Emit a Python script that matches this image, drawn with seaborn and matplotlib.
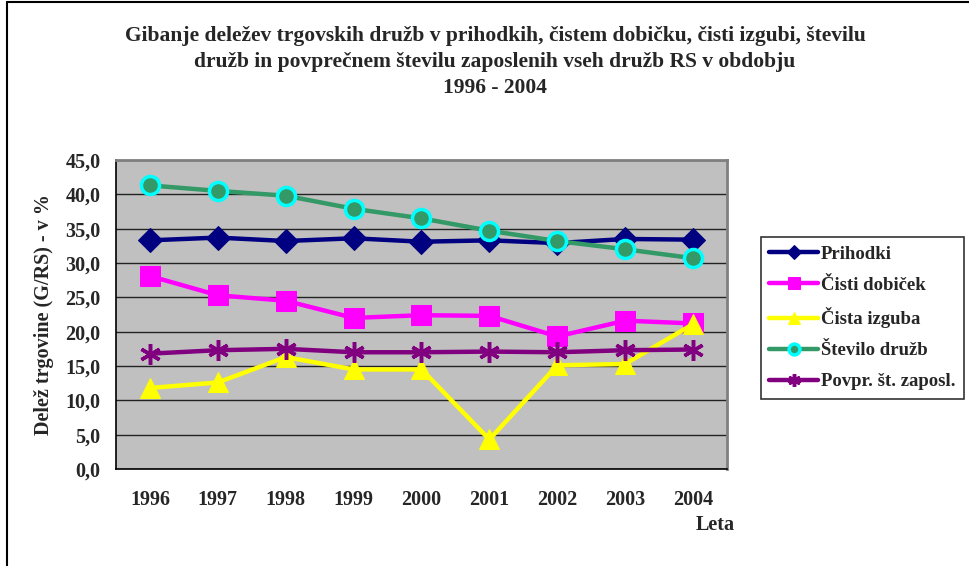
import matplotlib
matplotlib.use("Agg")
import matplotlib.pyplot as plt
import seaborn as sns
import pandas as pd
from matplotlib.ticker import FuncFormatter, FixedLocator

years = ["1996", "1997", "1998", "1999", "2000", "2001", "2002", "2003", "2004"]
prihodki = [33.3, 33.7, 33.2, 33.6, 33.1, 33.3, 32.9, 33.5, 33.4]
cisti_dobicek = [28.1, 25.3, 24.5, 22.0, 22.4, 22.3, 19.3, 21.6, 21.2]
cista_izguba = [11.8, 12.6, 16.3, 14.5, 14.5, 4.3, 15.1, 15.3, 21.1]
stevilo_druzb = [41.3, 40.5, 39.8, 37.9, 36.5, 34.7, 33.2, 32.0, 30.7]
zaposleni = [16.8, 17.3, 17.5, 17.0, 17.0, 17.1, 17.0, 17.3, 17.4]

series_names = ["Prihodki", "Čisti dobiček", "Čista izguba", "Število družb", "Povpr. št. zaposl."]

title = ("Gibanje deležev trgovskih družb v prihodkih, čistem dobičku, čisti izgubi, številu\n"
         "družb in povprečnem številu zaposlenih vseh družb RS v obdobju\n"
         "1996 - 2004")

sns.set_style("white")
plt.rcParams["font.family"] = ["Liberation Serif", "DejaVu Serif"]
plt.rcParams["font.weight"] = "bold"

df = pd.DataFrame({
    "pos": list(range(len(years))),
    series_names[0]: prihodki,
    series_names[1]: cisti_dobicek,
    series_names[2]: cista_izguba,
    series_names[3]: stevilo_druzb,
    series_names[4]: zaposleni,
})

styles = {
    "Prihodki": dict(color="#000080", marker="D", markersize=12, markeredgecolor="#000080"),
    "Čisti dobiček": dict(color="#ff00ff", marker="s", markersize=14, markeredgecolor="#ff00ff"),
    "Čista izguba": dict(color="#ffff00", marker="^", markersize=15, markeredgecolor="#ffff00"),
    "Število družb": dict(color="#339966", marker="o", markersize=13, markeredgecolor="#00ffff",
                          markeredgewidth=2.5),
    "Povpr. št. zaposl.": dict(color="#800080", marker=(6, 2, 0), markersize=15,
                               markeredgecolor="#800080", markeredgewidth=2.5),
}

fig = plt.figure(figsize=(9.7, 5.66), dpi=100)
ax = fig.add_axes([116 / 970, 97 / 566, 611 / 970, 309 / 566])
ax.set_facecolor("#c0c0c0")

for name in series_names:
    sns.lineplot(data=df, x="pos", y=name, ax=ax, linewidth=3.2, label=name, **styles[name])

ax.set_xlim(-0.5, len(years) - 0.5)
ax.set_ylim(0, 45)
ax.set_yticks([i * 5 for i in range(10)])
ax.yaxis.set_major_formatter(FuncFormatter(lambda v, p: f"{v:.1f}".replace(".", ",")))
ax.grid(axis="y", color="#222222", linewidth=1)
ax.set_axisbelow(True)

ax.set_xticks(range(len(years)))
ax.set_xticklabels(years)
ax.xaxis.set_minor_locator(FixedLocator([i - 0.5 for i in range(len(years) + 1)]))
ax.tick_params(axis="x", which="major", length=0, pad=15, labelsize=14.5)
ax.tick_params(axis="x", which="minor", length=6, width=1, color="black", direction="out")
ax.tick_params(axis="y", length=8, width=1, color="black", direction="out", labelsize=14.5, pad=3)
for lab in ax.get_xticklabels() + ax.get_yticklabels():
    lab.set_fontweight("bold")

ax.set_xlabel("")
ax.set_ylabel("Delež trgovine (G/RS) - v %", fontsize=14.5, fontweight="bold", labelpad=8)

for side in ["left", "bottom"]:
    ax.spines[side].set_color("black")
    ax.spines[side].set_linewidth(1.2)
for side in ["top", "right"]:
    ax.spines[side].set_color("#808080")
    ax.spines[side].set_linewidth(2)

leg = ax.legend(loc="upper left", frameon=True, fancybox=False, shadow=False, edgecolor="black",
                prop={"size": 13.5, "weight": "bold"}, handlelength=2.6, handletextpad=0.15,
                borderpad=0.45, labelspacing=0.74, borderaxespad=0, markerscale=0.6)
leg.get_frame().set_linewidth(1.2)
# legend placed by its upper-left corner
leg.set_bbox_to_anchor((761 / 970, 1 - 237 / 566), transform=fig.transFigure)

fig.text(495 / 970, 1 - 26 / 566, title, ha="center", va="top", fontsize=15.5,
         fontweight="bold", linespacing=1.4)
fig.text(735 / 970, 1 - 525 / 566, "Leta", ha="right", va="center", fontsize=14.5, fontweight="bold")

# outer chart frame (top and left edges visible)
fig.add_artist(plt.Line2D([7 / 970, 1], [1 - 2 / 566, 1 - 2 / 566], transform=fig.transFigure,
                          color="black", linewidth=1.5))
fig.add_artist(plt.Line2D([7 / 970, 7 / 970], [0, 1 - 2 / 566], transform=fig.transFigure,
                          color="black", linewidth=1.5))

fig.savefig("out.png", dpi=100, facecolor="white")
